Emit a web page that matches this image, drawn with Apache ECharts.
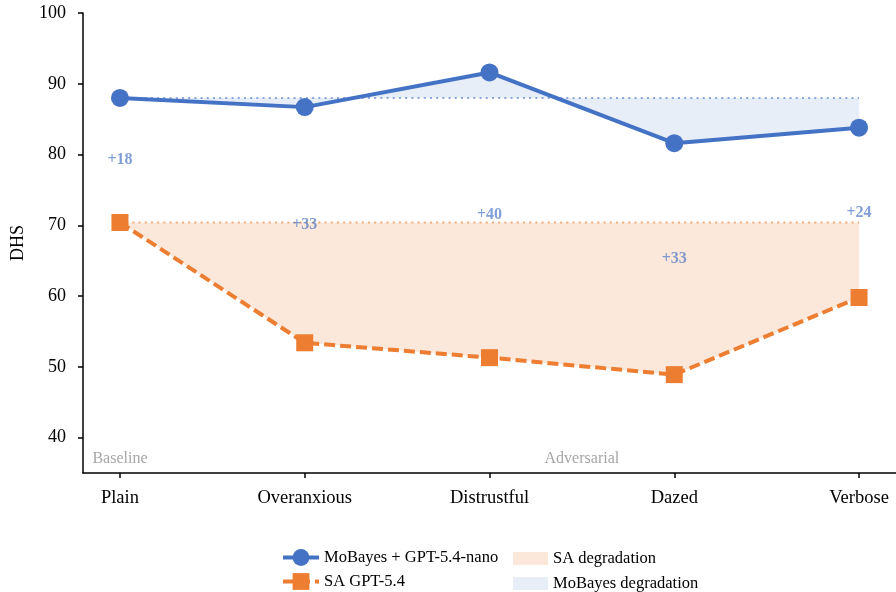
<!DOCTYPE html>
<html>
<head>
<meta charset="utf-8">
<script src="https://cdn.jsdelivr.net/npm/echarts@6/dist/echarts.min.js"></script>
<style>
  html, body { margin: 0; padding: 0; background: #fff; }
  #chart { width: 896px; height: 592px; }
</style>
</head>
<body>
<div id="chart"></div>
<script>
// Personas tested, in x order
const categories = ['Plain', 'Overanxious', 'Distrustful', 'Dazed', 'Verbose'];
// DHS scores per persona
const mobayesScores = [88.0, 86.7, 91.6, 81.6, 83.8];
const saScores = [70.4, 53.4, 51.3, 48.9, 59.8];
const yTicks = [40, 50, 60, 70, 80, 90, 100];
// Region captions placed under the curves
const regionLabels = ['Baseline', 'Adversarial'];
const regionPositions = [0, 2.5];

const BLUE = '#4472c4';
const ORANGE = '#ed7d31';
const SERIF = '"Liberation Serif", "DejaVu Serif", serif';

const xs = categories.map((_, i) => i);
const mobayesBase = mobayesScores[0];
const saBase = saScores[0];

// Gap between the two systems, printed halfway between them
const gaps = xs.map(i => mobayesScores[i] - saScores[i]);
const gapMid = xs.map(i => (mobayesScores[i] + saScores[i]) / 2);

// Area between a curve and its Plain baseline (same as fill_between)
function bandRenderer(values, base, fill) {
  return function (params, api) {
    if (params.dataIndex !== 0) return null;
    const pts = [];
    xs.forEach(i => pts.push(api.coord([i, values[i]])));
    for (let i = xs.length - 1; i >= 0; i--) pts.push(api.coord([i, base]));
    return { type: 'polygon', shape: { points: pts }, style: { fill: fill } };
  };
}

const chart = echarts.init(document.getElementById('chart'), null, { renderer: 'canvas' });

const saFill = 'rgba(237,125,49,0.18)';
const moFill = 'rgba(68,114,196,0.12)';

chart.setOption({
  animation: false,
  backgroundColor: '#ffffff',
  textStyle: { fontFamily: SERIF },
  grid: { left: 83, right: -4, top: 13, bottom: 119, containLabel: false },
  xAxis: {
    type: 'value',
    min: -0.2,
    max: 4.2,
    splitLine: { show: false },
    axisLine: { show: true, onZero: false, lineStyle: { color: '#000', width: 1.5 } },
    axisTick: { show: true, length: 5, customValues: xs, lineStyle: { color: '#000', width: 1.5 } },
    axisLabel: {
      customValues: xs,
      formatter: v => categories[Math.round(v)],
      color: '#000', fontFamily: SERIF, fontSize: 18.5, margin: 16
    }
  },
  yAxis: {
    type: 'value',
    min: 35,
    max: 100,
    name: 'DHS',
    nameLocation: 'middle',
    nameGap: 56,
    nameTextStyle: { color: '#000', fontFamily: SERIF, fontSize: 18 },
    splitLine: { show: false },
    axisLine: { show: true, onZero: false, lineStyle: { color: '#000', width: 1.5 } },
    axisTick: { show: true, length: 5, customValues: yTicks, lineStyle: { color: '#000', width: 1.5 } },
    axisLabel: {
      customValues: yTicks,
      color: '#000', fontFamily: SERIF, fontSize: 18, margin: 17
    }
  },
  legend: [
    {
      data: ['MoBayes + GPT-5.4-nano', 'SA GPT-5.4'],
      orient: 'vertical',
      left: 281, top: 549,
      height: 60,
      padding: 0,
      itemWidth: 36, itemHeight: 21, itemGap: 7,
      lineStyle: { width: 4 },
      textStyle: { fontFamily: SERIF, fontSize: 16.5, color: '#000' }
    },
    {
      data: [
        { name: 'SA degradation', icon: 'rect' },
        { name: 'MoBayes degradation', icon: 'rect' }
      ],
      orient: 'vertical',
      left: 513, top: 550,
      height: 60,
      padding: 0,
      itemWidth: 35, itemHeight: 13, itemGap: 8,
      textStyle: { fontFamily: SERIF, fontSize: 16.5, color: '#000' }
    }
  ],
  series: [
    {
      name: 'SA degradation',
      type: 'custom',
      silent: true,
      z: 1,
      itemStyle: { color: saFill },
      data: [[0, saBase]],
      renderItem: bandRenderer(saScores, saBase, saFill)
    },
    {
      name: 'MoBayes degradation',
      type: 'custom',
      silent: true,
      z: 1,
      itemStyle: { color: moFill },
      data: [[0, mobayesBase]],
      renderItem: bandRenderer(mobayesScores, mobayesBase, moFill)
    },
    {
      name: 'SA baseline',
      type: 'line',
      silent: true,
      z: 2,
      symbol: 'none',
      data: [[0, saBase], [4, saBase]],
      lineStyle: { color: 'rgba(237,125,49,0.6)', width: 2, type: [2, 4.2] }
    },
    {
      name: 'MoBayes baseline',
      type: 'line',
      silent: true,
      z: 2,
      symbol: 'none',
      data: [[0, mobayesBase], [4, mobayesBase]],
      lineStyle: { color: 'rgba(68,114,196,0.6)', width: 2, type: [2, 4.2] }
    },
    {
      name: 'MoBayes + GPT-5.4-nano',
      type: 'line',
      z: 3,
      symbol: 'circle',
      symbolSize: 18,
      itemStyle: { color: BLUE },
      lineStyle: { color: BLUE, width: 4 },
      data: xs.map(i => [i, mobayesScores[i]])
    },
    {
      name: 'SA GPT-5.4',
      type: 'line',
      z: 3,
      symbol: 'rect',
      symbolSize: 17,
      itemStyle: { color: ORANGE },
      lineStyle: { color: ORANGE, width: 4, type: [11, 5] },
      data: xs.map(i => [i, saScores[i]])
    },
    {
      name: 'gap labels',
      type: 'custom',
      silent: true,
      z: 4,
      data: xs.map(i => [i, gapMid[i]]),
      renderItem: function (params, api) {
        const i = params.dataIndex;
        const p = api.coord([xs[i], gapMid[i]]);
        return {
          type: 'text',
          x: p[0], y: p[1],
          style: {
            text: '+' + Math.round(gaps[i]),
            fill: 'rgba(68,114,196,0.68)',
            font: 'bold 16px ' + SERIF,
            align: 'center', verticalAlign: 'middle',
            textAlign: 'center', textVerticalAlign: 'middle'
          }
        };
      }
    },
    {
      name: 'region labels',
      type: 'custom',
      silent: true,
      z: 4,
      data: regionPositions.map(x => [x, 37]),
      renderItem: function (params, api) {
        const i = params.dataIndex;
        const p = api.coord([regionPositions[i], 37]);
        return {
          type: 'text',
          x: p[0], y: p[1],
          style: {
            text: regionLabels[i],
            fill: '#a6a6a6',
            font: '16px ' + SERIF,
            align: 'center', verticalAlign: 'middle',
            textAlign: 'center', textVerticalAlign: 'middle'
          }
        };
      }
    }
  ]
});
</script>
</body>
</html>
